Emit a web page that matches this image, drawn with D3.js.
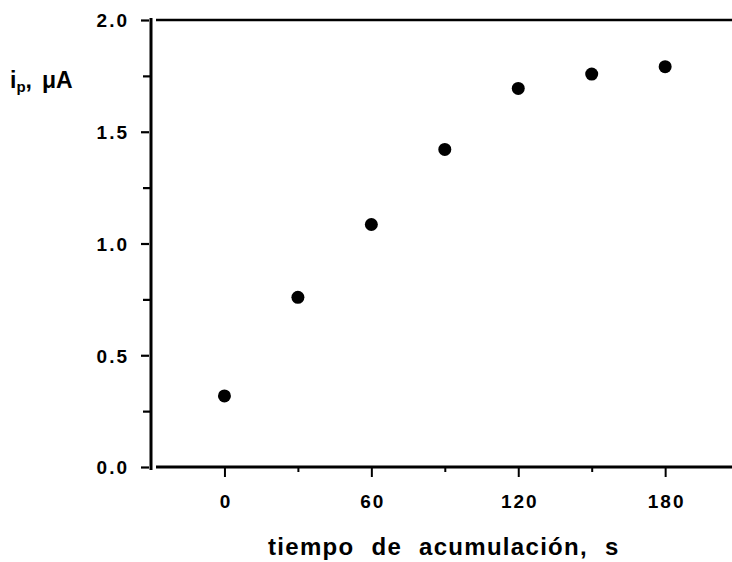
<!DOCTYPE html>
<html>
<head>
<meta charset="utf-8">
<script src="https://cdn.jsdelivr.net/npm/d3@7"></script>
<style>
  html, body { margin: 0; padding: 0; background: #fff; }
  svg { display: block; }
  text { font-family: "Liberation Sans", Arial, Helvetica, sans-serif; font-weight: bold; fill: #000; }
</style>
</head>
<body>
<svg id="chart" width="732" height="562"></svg>
<script>
// Data
const times = [0, 30, 60, 90, 120, 150, 180];
const currents = [0.318, 0.759, 1.085, 1.421, 1.694, 1.758, 1.791];
const xTickLabels = [0, 60, 120, 180];
const xMinorTicks = [30, 90, 150];
const yTickLabels = [0.0, 0.5, 1.0, 1.5, 2.0];
const yMinorTicks = [0.25, 0.75, 1.25, 1.75];
const xTitle = "tiempo de acumulación, s";

(function () {
const svg = d3.select("#chart");
const pL = 151, pR = 738.6, pT = 20, pB = 467;

const x = d3.scaleLinear().domain([-30, 210]).range([pL, pR]);
const y = d3.scaleLinear().domain([0, 2]).range([pB, pT]);

// Frame lines
svg.append("line").attr("x1", pL).attr("x2", pL).attr("y1", pT - 2).attr("y2", pB + 3)
  .attr("stroke", "#000").attr("stroke-width", 3);
svg.append("line").attr("x1", pL + 5).attr("x2", 732).attr("y1", pT).attr("y2", pT)
  .attr("stroke", "#000").attr("stroke-width", 2.5);
svg.append("line").attr("x1", pL + 5).attr("x2", 732).attr("y1", pB).attr("y2", pB)
  .attr("stroke", "#000").attr("stroke-width", 3);

// Y axis ticks (left of axis)
const yAxis = d3.axisLeft(y).tickValues(yTickLabels).tickFormat(d3.format(".1f")).tickSize(8).tickPadding(12);
const gy = svg.append("g").attr("transform", `translate(${pL - 2},0)`).call(yAxis);
gy.select(".domain").remove();
gy.selectAll(".tick line").attr("stroke", "#000").attr("stroke-width", 2.2);
gy.selectAll(".tick text").style("font-size", "19px").style("letter-spacing", "2px")
  .attr("dy", "0.36em").attr("fill", "#000");

const yMinor = d3.axisLeft(y).tickValues(yMinorTicks).tickSize(7).tickFormat("");
const gym = svg.append("g").attr("transform", `translate(${pL - 1},0)`).call(yMinor);
gym.select(".domain").remove();
gym.selectAll(".tick line").attr("stroke", "#000").attr("stroke-width", 2.2);

// X axis ticks (below)
const xAxis = d3.axisBottom(x).tickValues(xTickLabels).tickFormat(d3.format("d")).tickSize(10).tickPadding(18);
const gx = svg.append("g").attr("transform", `translate(0,${pB})`).call(xAxis);
gx.select(".domain").remove();
gx.selectAll(".tick line").attr("stroke", "#000").attr("stroke-width", 2);
gx.selectAll(".tick text").style("font-size", "19px").style("letter-spacing", "2px").attr("dx", "1px").attr("fill", "#000");

const xMinor = d3.axisBottom(x).tickValues(xMinorTicks).tickSize(5).tickFormat("");
const gxm = svg.append("g").attr("transform", `translate(0,${pB})`).call(xMinor);
gxm.select(".domain").remove();
gxm.selectAll(".tick line").attr("stroke", "#000").attr("stroke-width", 2);

// Points
svg.append("g").selectAll("circle").data(times).join("circle")
  .attr("cx", (d) => x(d))
  .attr("cy", (d, i) => y(currents[i]))
  .attr("r", 6.5)
  .attr("fill", "#000");

// Y label
const yl = svg.append("text").attr("x", 10).attr("y", 88).style("font-size", "23px");
yl.append("tspan").text("i");
yl.append("tspan").attr("dy", 4).style("font-size", "15px").text("p");
yl.append("tspan").attr("dy", -4).text(",");
yl.append("tspan").attr("dx", 10).text("μA");

// X title
svg.append("text").attr("x", 268).attr("y", 555).attr("text-anchor", "start")
  .style("font-size", "24px").style("letter-spacing", "1.3px").style("word-spacing", "9px")
  .text(xTitle);
})();
</script>
</body>
</html>
